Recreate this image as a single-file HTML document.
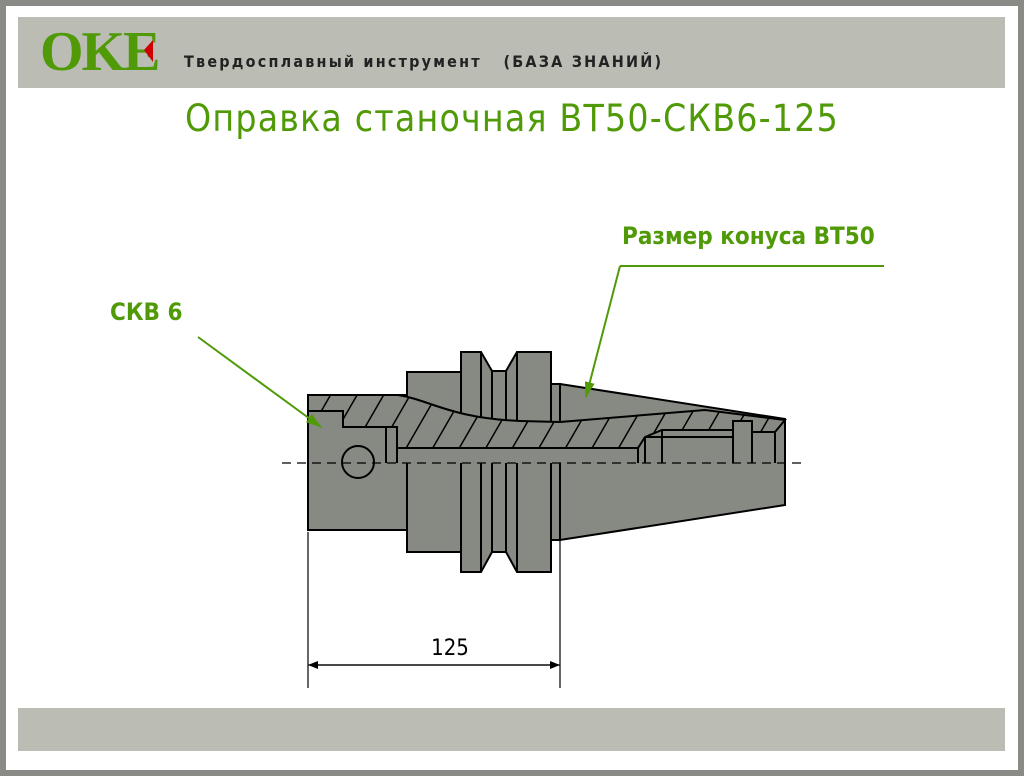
<!DOCTYPE html>
<html><head><meta charset="utf-8"><style>
html,body{margin:0;padding:0}
body{width:1024px;height:776px;position:relative;background:#fff;overflow:hidden;font-family:"Liberation Sans","DejaVu Sans",sans-serif}
.frame{position:absolute;left:0;top:0;width:1012px;height:764px;border:6px solid #8a8b86}
.bar{position:absolute;left:18px;width:987px;background:#bbbdb5}
</style></head><body>
<div class="frame"></div>
<div class="bar" style="top:17px;height:71px"></div>
<div class="bar" style="top:708px;height:43px"></div>
<div style="position:absolute;left:40px;top:24px;font-family:'Liberation Serif',serif;font-weight:bold;font-size:56px;color:#4f9a06;letter-spacing:-2px;line-height:56px">OKE</div>
<svg style="position:absolute;left:140px;top:36px" width="22" height="32"><path d="M4,14 L13,4 L13,26 Z" fill="#d00000"/></svg>
<div style="position:absolute;left:184px;top:52px;font-family:'DejaVu Sans Condensed','DejaVu Sans',sans-serif;font-weight:bold;font-size:16px;color:#222;letter-spacing:2.2px">Твердосплавный инструмент &nbsp; (БАЗА ЗНАНИЙ)</div>
<div style="position:absolute;left:0;width:1024px;top:97px;text-align:center;font-family:'DejaVu Sans Condensed','DejaVu Sans',sans-serif;font-size:37px;color:#4f9a06;letter-spacing:1.2px">Оправка станочная ВТ50-СКВ6-125</div>
<div style="position:absolute;left:110px;top:298px;font-family:'DejaVu Sans Condensed','DejaVu Sans',sans-serif;font-weight:bold;font-size:24px;color:#4f9a06">СКВ 6</div>
<div style="position:absolute;left:622px;top:222px;font-family:'DejaVu Sans Condensed','DejaVu Sans',sans-serif;font-weight:bold;font-size:24px;color:#4f9a06">Размер конуса ВТ50</div>
<svg style="position:absolute;left:0;top:0" width="1024" height="776">
<defs>
<pattern id="h" width="23" height="23" patternUnits="userSpaceOnUse" patternTransform="rotate(30)">
<rect width="23" height="23" fill="#878983"/>
<line x1="0" y1="0" x2="0" y2="23" stroke="#000" stroke-width="3"/></pattern>
<marker id="a" markerWidth="10" markerHeight="8" refX="10" refY="4" orient="auto" markerUnits="userSpaceOnUse"><path d="M0,0 L10,4 L0,8 Z" fill="#000"/></marker>
<marker id="g" markerWidth="16" markerHeight="10" refX="15" refY="5" orient="auto" markerUnits="userSpaceOnUse"><path d="M0,0 L16,5 L0,10 Z" fill="#4f9a06"/></marker>
</defs>
<g stroke="#000" stroke-width="2" fill="#878983" stroke-linejoin="miter">
<rect x="308" y="395" width="99" height="135"/>
<rect x="407" y="372" width="54" height="180"/>
<path d="M461,352 L481,352 L492,371 L506,371 L517,352 L551,352 L551,572 L517,572 L506,552 L492,552 L481,572 L461,572 Z"/>
<rect x="551" y="384" width="9" height="156"/>
<path d="M560,384 L785,419 L785,505 L560,540 Z"/>
<line x1="481" y1="352" x2="481" y2="422"/><line x1="492" y1="371" x2="492" y2="422"/>
<line x1="506" y1="371" x2="506" y2="422"/><line x1="517" y1="352" x2="517" y2="422"/>
<line x1="551" y1="384" x2="551" y2="422"/><line x1="560" y1="384" x2="560" y2="422"/>
<path d="M308,395 L398,395 C430,400 450,418 520,421 L560,422 L705,410 L785,420 L775,432 L752,432 L752,421 L733,421 L733,430 L662,430 L645,437 L638,448 L397,448 L397,427 L343,427 L343,411 L308,411 Z" fill="url(#h)"/>
<rect x="397" y="448" width="241" height="16" stroke="none"/>
<line x1="397" y1="448" x2="638" y2="448"/>
<line x1="386" y1="427" x2="386" y2="463"/><line x1="397" y1="448" x2="397" y2="463"/>
<line x1="638" y1="448" x2="638" y2="463"/>
<path d="M645,437 L733,437 M645,437 L645,463 M662,430 L662,463 M733,421 L733,463 M752,432 L752,463 M775,432 L775,463" fill="none"/>
<line x1="407" y1="463" x2="407" y2="552"/><line x1="461" y1="463" x2="461" y2="572"/>
<line x1="481" y1="463" x2="481" y2="572"/><line x1="492" y1="463" x2="492" y2="552"/>
<line x1="506" y1="463" x2="506" y2="552"/><line x1="517" y1="463" x2="517" y2="572"/>
<line x1="551" y1="463" x2="551" y2="572"/><line x1="560" y1="463" x2="560" y2="540"/>
<circle cx="358" cy="462" r="16"/>
</g>
<line x1="282" y1="463" x2="805" y2="463" stroke="#000" stroke-width="1.3" stroke-dasharray="9,6"/>
<g stroke="#000" stroke-width="1.2">
<line x1="308" y1="532" x2="308" y2="688"/><line x1="560" y1="540" x2="560" y2="688"/>
<line x1="318" y1="665" x2="560" y2="665" marker-end="url(#a)"/>
<line x1="550" y1="665" x2="308" y2="665" marker-end="url(#a)"/>
</g>
<text x="450" y="655" text-anchor="middle" font-family="DejaVu Sans Condensed, DejaVu Sans, sans-serif" font-size="22" fill="#000">125</text>
<g stroke="#4f9a06" stroke-width="2" fill="none">
<line x1="198" y1="337" x2="321" y2="427" marker-end="url(#g)"/>
<line x1="620" y1="266" x2="884" y2="266"/>
<line x1="620" y1="266" x2="586" y2="397" marker-end="url(#g)"/>
</g>
</svg>
</body></html>
